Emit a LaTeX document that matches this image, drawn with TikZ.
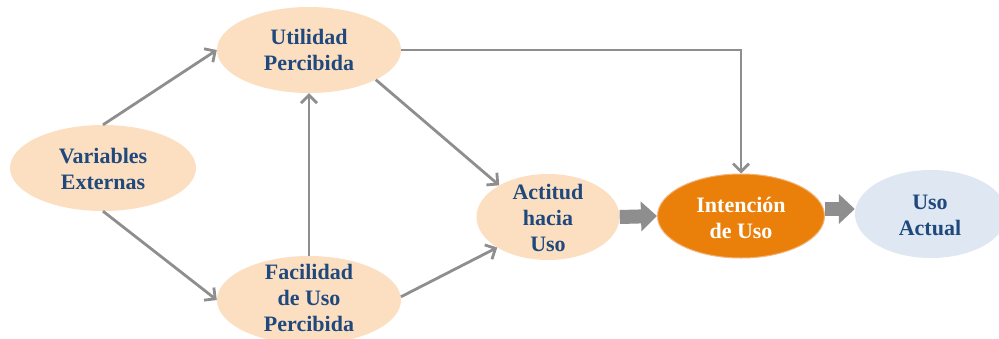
\documentclass[tikz,border=0pt]{standalone}
\usepackage{fontspec}
\setmainfont{Liberation Serif}
\usetikzlibrary{arrows.meta,shapes.geometric}
\definecolor{peach}{HTML}{FCDEC1}
\definecolor{lblue}{HTML}{DFE7F2}
\definecolor{orng}{HTML}{EA800A}
\definecolor{orngedge}{HTML}{F4B27A}
\definecolor{agray}{HTML}{8E8E8E}
\definecolor{tblue}{HTML}{1F497D}
\tikzset{
  ell/.style={ellipse, inner sep=0pt, draw=none},
  txt/.style={align=center, inner sep=0pt, text=tblue, font=\fontsize{22}{26}\selectfont\bfseries},
  conn/.style={draw=agray, line width=2.8pt, -{Straight Barb[length=8pt,width=16pt,line width=2.8pt]}},
  blockarr/.style={draw=agray, line width=14pt, -{Triangle[length=16pt,width=29pt]}, shorten >=0pt},
}
\begin{document}
\begin{tikzpicture}[x=1pt,y=-1pt]
\useasboundingbox (0,0) rectangle (999,338);
\clip (0,0) rectangle (999,338);
\fill[white] (0,0) rectangle (999,338);
% ellipses
\node[ell, fill=peach, minimum width=186pt, minimum height=86pt] (ve) at (103,168) {};
\node[ell, fill=peach, minimum width=184pt, minimum height=86pt] (up) at (309,50) {};
\node[ell, fill=peach, minimum width=184pt, minimum height=88pt] (fup) at (309,300) {};
\node[ell, fill=peach, minimum width=143pt, minimum height=86pt] (act) at (548,217) {};
\node[ell, fill=orng, draw=orngedge, line width=1pt, minimum width=167pt, minimum height=84pt] (int) at (741,216) {};
\node[ell, fill=lblue, minimum width=152pt, minimum height=88pt] (ua) at (931,214) {};
% texts
\node[txt] (vet) at (103,169) {Variables\\Externas};
\node[txt] (upt) at (309,50) {Utilidad\\Percibida};
\node[txt] (fupt) at (309,298) {Facilidad\\de Uso\\Percibida};
\node[txt] (actt) at (548,218) {Actitud\\hacia\\Uso};
\node[txt, text=white] (intt) at (741,218) {Intención\\de Uso};
\node[txt] (uat) at (930,215) {Uso\\Actual};
% connectors
\draw[conn] (ve.north) -- (up.west);
\draw[conn] (ve.south) -- (fup.west);
\draw[conn] (fup.north) -- (up.south);
\draw[conn] (up.-24) -- (act.147);
\draw[conn] (fup.2) -- (act.-149);
\draw[conn] (up.east) -| (int.north);
\draw[blockarr] (act.east) -- (int.west);
\draw[blockarr] (int.east |- 0,209) -- (ua.west |- 0,209);
\end{tikzpicture}
\end{document}
